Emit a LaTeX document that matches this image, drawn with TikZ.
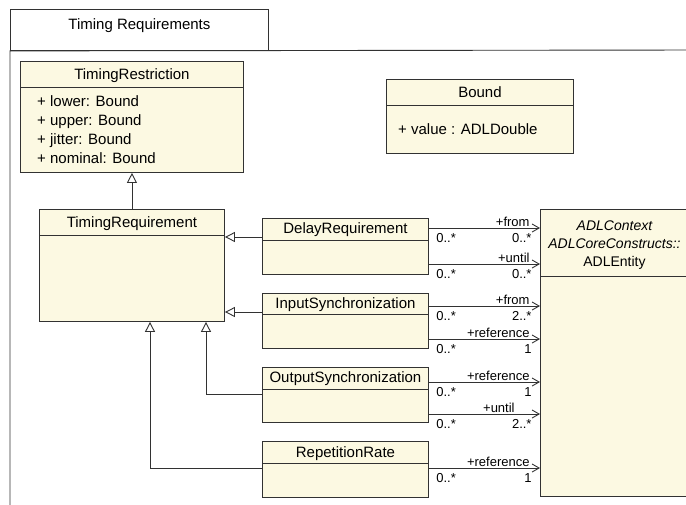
\documentclass[tikz,border=0pt]{standalone}
\usepackage{fontspec}
\setmainfont{Liberation Sans}
\usetikzlibrary{arrows.meta}
\definecolor{classfill}{RGB}{252,249,226}
\definecolor{edge}{RGB}{50,50,50}
\tikzset{>={Straight Barb[length=7pt,width=8pt]}}
\tikzset{
  umlclass/.style={draw=edge, fill=classfill, line width=0.9pt, anchor=north west, inner sep=0pt},
  boxline/.style={draw=edge, line width=0.9pt},
  classname/.style={font=\fontsize{15}{19}\selectfont, inner sep=0pt, anchor=base},
  entline/.style={font=\fontsize{14}{18}\selectfont, inner sep=0pt, anchor=base},
  attr/.style={font=\fontsize{15}{19}\selectfont, inner sep=0pt, anchor=base west},
  role/.style={font=\fontsize{13}{15}\selectfont, inner sep=0pt},
  srcmult/.style={role, pos=0, anchor=base west, xshift=7pt, yshift=-14pt},
  rolename/.style={role, pos=1, anchor=base east, xshift=-10pt, yshift=2pt},
  tgtmult/.style={role, pos=1, anchor=base east, xshift=-8pt, yshift=-14pt},
  assoc/.style={->, draw=edge, line width=0.9pt},
  inherit/.style={-{Triangle[length=10pt,width=10pt,fill=white]}, draw=edge, line width=0.9pt},
}

\begin{document}
\begin{tikzpicture}

  \useasboundingbox (0pt,0pt) rectangle (686pt,-504pt);
  \clip (0pt,0pt) rectangle (686pt,-504pt);

  %% package frame
  \node[draw=edge, line width=0.9pt, anchor=north west, inner sep=0pt,
  minimum width=258pt, minimum height=41pt] (tab) at (10pt,-9pt) {};
  \node[classname] (tabname) at ([yshift=-20pt]tab.north) {Timing Requirements};
  \draw[boxline] (10pt,-510pt) -- (tab.south west) -- (700pt,-50pt);

  %% classes
  \node[umlclass, minimum width=223pt, minimum height=111pt] (trs) at (20pt,-61pt) {};
  \draw[boxline] ([yshift=-26pt]trs.north west) -- ([yshift=-26pt]trs.north east);
  \node[classname] (trsname) at ([yshift=-18pt]trs.north) {TimingRestriction};
  \node[attr] (trslower) at ([xshift=17pt,yshift=-45pt]trs.north west) {+ lower: Bound};
  \node[attr] (trsupper) at ([xshift=17pt,yshift=-64pt]trs.north west) {+ upper: Bound};
  \node[attr] (trsjitter) at ([xshift=17pt,yshift=-83pt]trs.north west) {+ jitter: Bound};
  \node[attr] (trsnominal) at ([xshift=17pt,yshift=-102pt]trs.north west) {+ nominal: Bound};

  \node[umlclass, minimum width=187pt, minimum height=74pt] (bnd) at (386pt,-79pt) {};
  \draw[boxline] ([yshift=-26pt]bnd.north west) -- ([yshift=-26pt]bnd.north east);
  \node[classname] (bndname) at ([yshift=-18pt]bnd.north) {Bound};
  \node[attr] (bndvalue) at ([xshift=12pt,yshift=-55pt]bnd.north west) {+ value : ADLDouble};

  \node[umlclass, minimum width=185pt, minimum height=112pt] (treq) at (39pt,-209pt) {};
  \draw[boxline] ([yshift=-26pt]treq.north west) -- ([yshift=-26pt]treq.north east);
  \node[classname] (treqname) at ([yshift=-18pt]treq.north) {TimingRequirement};

  \node[umlclass, minimum width=166pt, minimum height=56pt] (dreq) at (262pt,-218pt) {};
  \draw[boxline] ([yshift=-22pt]dreq.north west) -- ([yshift=-22pt]dreq.north east);
  \node[classname] (dreqname) at ([yshift=-15pt]dreq.north) {DelayRequirement};

  \node[umlclass, minimum width=166pt, minimum height=55pt] (isync) at (262pt,-293pt) {};
  \draw[boxline] ([yshift=-21pt]isync.north west) -- ([yshift=-21pt]isync.north east);
  \node[classname] (isyncname) at ([yshift=-15pt]isync.north) {InputSynchronization};

  \node[umlclass, minimum width=166pt, minimum height=55pt] (osync) at (262pt,-367pt) {};
  \draw[boxline] ([yshift=-22pt]osync.north west) -- ([yshift=-22pt]osync.north east);
  \node[classname] (osyncname) at ([yshift=-15pt]osync.north) {OutputSynchronization};

  \node[umlclass, minimum width=166pt, minimum height=56pt] (rrate) at (262pt,-441pt) {};
  \draw[boxline] ([yshift=-22pt]rrate.north west) -- ([yshift=-22pt]rrate.north east);
  \node[classname] (rratename) at ([yshift=-16pt]rrate.north) {RepetitionRate};

  \node[umlclass, minimum width=148pt, minimum height=287pt] (ent) at (540pt,-209pt) {};
  \draw[boxline] ([yshift=-67pt]ent.north west) -- ([yshift=-67pt]ent.north east);
  \node[entline] (entctx) at ([yshift=-21pt]ent.north) {\itshape ADLContext};
  \node[entline] (entcore) at ([yshift=-39pt]ent.north) {\itshape ADLCoreConstructs::};
  \node[entline] (entname) at ([yshift=-57pt]ent.north) {ADLEntity};

  %% generalizations
  \draw[inherit] (treq.north) -- (trs.south);
  \draw[inherit] (dreq.west |- 0,-237pt) -- (treq.east |- 0,-237pt);
  \draw[inherit] (isync.west |- 0,-312pt) -- (treq.east |- 0,-312pt);
  \draw[inherit] (osync.west |- 0,-394pt) -| (treq.south -| 206pt,0);
  \draw[inherit] (rrate.west |- 0,-468pt) -| (treq.south -| 150pt,0);

  %% associations
  \draw[assoc] (dreq.east |- 0,-228pt) -- (ent.west |- 0,-228pt)
  node[srcmult]{0..*} node[rolename]{+from} node[tgtmult]{0..*};
  \draw[assoc] (dreq.east |- 0,-264pt) -- (ent.west |- 0,-264pt)
  node[srcmult]{0..*} node[rolename]{+until} node[tgtmult]{0..*};
  \draw[assoc] (isync.east |- 0,-306pt) -- (ent.west |- 0,-306pt)
  node[srcmult]{0..*} node[rolename]{+from} node[tgtmult]{2..*};
  \draw[assoc] (isync.east |- 0,-339pt) -- (ent.west |- 0,-339pt)
  node[srcmult]{0..*} node[rolename]{+reference} node[tgtmult]{1};
  \draw[assoc] (osync.east |- 0,-382pt) -- (ent.west |- 0,-382pt)
  node[srcmult]{0..*} node[rolename]{+reference} node[tgtmult]{1};
  \draw[assoc] (osync.east |- 0,-414pt) -- (ent.west |- 0,-414pt)
  node[srcmult]{0..*} node[role, pos=0.63, anchor=base, yshift=2pt]{+until}
  node[tgtmult]{2..*};
  \draw[assoc] (rrate.east |- 0,-468pt) -- (ent.west |- 0,-468pt)
  node[srcmult]{0..*} node[rolename]{+reference} node[tgtmult]{1};

\end{tikzpicture}
\end{document}
